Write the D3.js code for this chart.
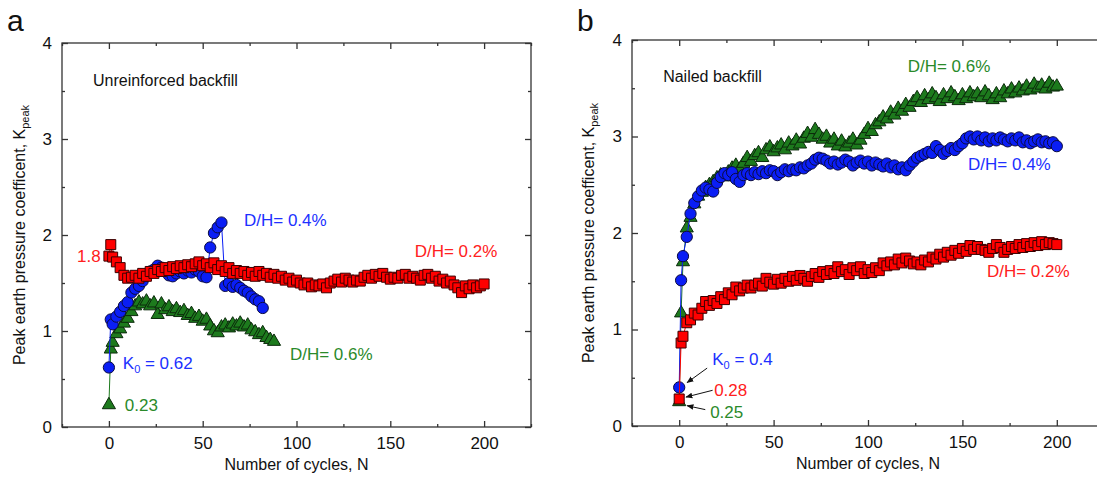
<!DOCTYPE html>
<html>
<head>
<meta charset="utf-8">
<script src="https://cdn.jsdelivr.net/npm/d3@7"></script>
<style>
  body { margin: 0; background: #fff; }
  svg { display: block; }
  text { font-family: "Liberation Sans", Arial, sans-serif; }
</style>
</head>
<body>
<svg width="1097" height="477"></svg>
<script>
// ---- data: K_peak vs number of cycles ----
// cycle numbers: 0, 1, then every second cycle
const cyclesA_red = [0, 1].concat(d3.range(2, 201, 2));
const cyclesA_blue = [0, 1].concat(d3.range(2, 83, 2));
const cyclesA_green = [0, 1].concat(d3.range(2, 89, 2));
const cyclesB = [0, 1].concat(d3.range(2, 201, 2));

// panel a - unreinforced backfill
const unreinforced02 = [
  1.78, 1.90, 1.77, 1.72, 1.66, 1.58, 1.55, 1.56, 1.58, 1.55,
  1.60, 1.57, 1.62, 1.60, 1.64, 1.62, 1.66, 1.63, 1.67, 1.65,
  1.68, 1.66, 1.69, 1.67, 1.70, 1.72, 1.68, 1.70, 1.66, 1.71,
  1.64, 1.68, 1.62, 1.66, 1.60, 1.63, 1.60, 1.62, 1.58, 1.61,
  1.57, 1.62, 1.58, 1.60, 1.56, 1.59, 1.55, 1.57, 1.53, 1.55,
  1.51, 1.53, 1.50, 1.48, 1.50, 1.46, 1.48, 1.47, 1.49, 1.45,
  1.50, 1.52, 1.54, 1.51, 1.55, 1.53, 1.51, 1.53, 1.52, 1.56,
  1.58, 1.55, 1.59, 1.57, 1.60, 1.56, 1.54, 1.56, 1.55, 1.58,
  1.59, 1.55, 1.57, 1.55, 1.53, 1.58, 1.59, 1.55, 1.57, 1.52,
  1.54, 1.50, 1.52, 1.48, 1.45, 1.40, 1.47, 1.44, 1.48, 1.45,
  1.47, 1.49
];
const unreinforced04 = [
  0.62, 1.12, 1.07, 1.15, 1.20, 1.26, 1.30, 1.40, 1.44, 1.47,
  1.52, 1.58, 1.62, 1.64, 1.68, 1.66, 1.62, 1.58, 1.57, 1.60,
  1.62, 1.60, 1.63, 1.61, 1.64, 1.62, 1.57, 1.56, 1.87, 2.02,
  2.08, 2.13, 1.47, 1.50, 1.46, 1.48, 1.45, 1.42, 1.40, 1.36,
  1.33, 1.31, 1.24
];
const unreinforced06 = [
  0.23, 0.81, 0.88, 0.97, 1.02, 1.08, 1.13, 1.20, 1.26, 1.30,
  1.28, 1.31, 1.26, 1.29, 1.17, 1.28, 1.22, 1.25, 1.20, 1.23,
  1.19, 1.21, 1.16, 1.18, 1.13, 1.15, 1.10, 1.12, 1.05, 1.00,
  0.98, 1.04, 1.06, 1.03, 1.07, 1.05, 1.08, 1.04, 1.06, 1.01,
  0.99, 0.96, 0.98, 0.93, 0.91, 0.89
];

// panel b - nailed backfill
const nailed02 = [
  0.28, 0.86, 0.93, 1.07, 1.10, 1.17, 1.15, 1.22, 1.29, 1.25,
  1.30, 1.27, 1.34, 1.31, 1.38, 1.36, 1.44, 1.40, 1.43, 1.46,
  1.43, 1.46, 1.48, 1.45, 1.53, 1.49, 1.47, 1.52, 1.48, 1.53,
  1.50, 1.55, 1.51, 1.56, 1.53, 1.50, 1.55, 1.58, 1.54, 1.60,
  1.57, 1.61, 1.58, 1.65, 1.60, 1.62, 1.57, 1.64, 1.61, 1.65,
  1.58, 1.62, 1.59, 1.64, 1.61, 1.69, 1.66, 1.70, 1.67, 1.73,
  1.69, 1.74, 1.71, 1.68, 1.70, 1.67, 1.72, 1.70, 1.75, 1.73,
  1.78, 1.75, 1.80, 1.77, 1.82, 1.79, 1.84, 1.81, 1.87, 1.83,
  1.86, 1.83, 1.82, 1.80, 1.84, 1.88, 1.85, 1.80, 1.83, 1.86,
  1.84, 1.88, 1.85, 1.89, 1.86, 1.90, 1.87, 1.91, 1.88, 1.90,
  1.89, 1.88
];
const nailed04 = [
  0.40, 1.51, 1.76, 1.96, 2.20, 2.31, 2.38, 2.44, 2.47, 2.45,
  2.43, 2.52, 2.58, 2.62, 2.60, 2.63, 2.56, 2.53, 2.60, 2.62,
  2.60, 2.63, 2.61, 2.64, 2.62, 2.65, 2.64, 2.60, 2.63, 2.66,
  2.64, 2.66, 2.65, 2.68, 2.67, 2.70, 2.72, 2.76, 2.78, 2.77,
  2.75, 2.72, 2.74, 2.71, 2.73, 2.76, 2.74, 2.70, 2.73, 2.75,
  2.72, 2.74, 2.70, 2.73, 2.71, 2.69, 2.72, 2.68, 2.70, 2.66,
  2.68, 2.65, 2.70, 2.74, 2.78, 2.80, 2.82, 2.84, 2.83, 2.90,
  2.86, 2.82, 2.85, 2.88, 2.86, 2.90, 2.93, 2.98, 3.00, 2.97,
  3.00, 2.96, 2.99, 2.95, 2.98, 2.96, 2.99, 2.97, 2.95, 2.98,
  2.96, 2.99, 2.94, 2.96, 2.93, 2.95, 2.97, 2.94, 2.95, 2.93,
  2.94, 2.90
];
const nailed06 = [
  0.25, 1.17, 1.70, 2.05, 2.16, 2.30, 2.38, 2.42, 2.47, 2.50,
  2.53, 2.57, 2.60, 2.58, 2.63, 2.67, 2.70, 2.66, 2.72, 2.78,
  2.74, 2.80, 2.83, 2.78, 2.86, 2.89, 2.84, 2.88, 2.91, 2.86,
  2.93, 2.90, 2.96, 2.92, 2.98, 3.03, 2.99, 3.07, 3.02, 2.97,
  3.00, 2.93, 2.97, 2.90, 2.95, 2.89, 2.93, 2.97, 2.91, 2.96,
  3.02, 3.08, 3.05, 3.12, 3.15, 3.20, 3.18, 3.25, 3.22, 3.29,
  3.26, 3.33, 3.30, 3.36, 3.40, 3.35, 3.42, 3.38, 3.44, 3.40,
  3.36, 3.43, 3.39, 3.45, 3.41, 3.37, 3.43, 3.39, 3.45, 3.41,
  3.44, 3.40, 3.46, 3.42, 3.38, 3.44, 3.40, 3.47, 3.44, 3.49,
  3.45, 3.50, 3.47, 3.52, 3.48, 3.54, 3.50, 3.53, 3.49, 3.55,
  3.51, 3.52
];

const xTicks = [0, 50, 100, 150, 200];
const xMinor = [-25, 25, 75, 125, 175, 225];
const yTicks = [0, 1, 2, 3, 4];
const yMinor = [0.5, 1.5, 2.5, 3.5];

const RED = "#ff0000", BLUE = "#0a1ef5", GREEN = "#1d7a1d";
const RED_T = "#ff2020", BLUE_T = "#2030ff", GREEN_T = "#2a8a2a";

const svg = d3.select("svg");

svg.append("defs").append("marker")
  .attr("id", "arrow")
  .attr("viewBox", "0 0 10 10")
  .attr("refX", 9).attr("refY", 5)
  .attr("markerWidth", 7).attr("markerHeight", 7)
  .attr("orient", "auto")
  .append("path")
  .attr("d", "M0,1 L10,5 L0,9 z")
  .attr("fill", "#111");

function drawPanel(p) {
  const x = d3.scaleLinear().domain([-25, 225]).range([p.left, p.right]);
  const y = d3.scaleLinear().domain([0, 4]).range([p.bottom, p.top]);
  const g = svg.append("g");

  // frame
  g.append("rect")
    .attr("x", p.left).attr("y", p.top)
    .attr("width", p.right - p.left).attr("height", p.bottom - p.top)
    .attr("fill", "none").attr("stroke", "#333").attr("stroke-width", 1.3);

  function axis(gen, tr, vals, size, labels) {
    const a = g.append("g").attr("transform", tr)
      .call(gen.tickValues(vals).tickSizeInner(-size).tickSizeOuter(0)
        .tickPadding(10).tickFormat(labels ? d3.format("d") : ""));
    a.select(".domain").remove();
    a.selectAll("line").attr("stroke", "#333").attr("stroke-width", 1.3);
    a.selectAll("text").attr("font-size", 17).attr("fill", "#111")
      .style("font-family", '"Liberation Sans", Arial, sans-serif');
  }
  axis(d3.axisBottom(x), `translate(0,${p.bottom})`, xTicks, 6, true);
  axis(d3.axisBottom(x), `translate(0,${p.bottom})`, xMinor, 3, false);
  axis(d3.axisTop(x), `translate(0,${p.top})`, xTicks, 6, false);
  axis(d3.axisTop(x), `translate(0,${p.top})`, xMinor, 3, false);
  axis(d3.axisLeft(y), `translate(${p.left},0)`, yTicks, 6, true);
  axis(d3.axisLeft(y), `translate(${p.left},0)`, yMinor, 3, false);
  axis(d3.axisRight(y), `translate(${p.right},0)`, yTicks, 6, false);
  axis(d3.axisRight(y), `translate(${p.right},0)`, yMinor, 3, false);

  // axis titles
  g.append("text")
    .attr("x", (x(0) + x(200)) / 2).attr("y", p.bottom + 43)
    .attr("text-anchor", "middle").attr("font-size", 16).attr("fill", "#111")
    .text("Number of cycles, N");

  const yt = g.append("text")
    .attr("transform", `translate(${p.ytitleX},${(p.top + p.bottom) / 2}) rotate(-90)`)
    .attr("text-anchor", "middle").attr("font-size", 16).attr("fill", "#111");
  yt.append("tspan").text("Peak earth pressure coefficent, K");
  yt.append("tspan").attr("font-size", 11).attr("dy", 4).text("peak");

  g.append("text")
    .attr("x", p.tagX).attr("y", 31)
    .attr("font-size", 30).attr("fill", "#111")
    .text(p.tag);

  // series: line + markers
  const line = d3.line().x(d => x(d[0])).y(d => y(d[1]));
  p.series.forEach(s => {
    const pts = s.cycles.map((c, i) => [c, s.values[i]]).filter(d => d[1] !== undefined);
    g.append("path").datum(pts)
      .attr("d", line).attr("fill", "none")
      .attr("stroke", s.color).attr("stroke-width", 1);
    const sym = d3.symbol().type(s.shape).size(s.size);
    g.append("g").selectAll("path")
      .data(pts).join("path")
      .attr("transform", d => `translate(${x(d[0])},${y(d[1])})`)
      .attr("d", sym)
      .attr("fill", s.color)
      .attr("stroke", s.stroke).attr("stroke-width", 1);
  });

  // annotations
  p.notes.forEach(n => {
    const t = g.append("text")
      .attr("x", x(n.x)).attr("y", y(n.y))
      .attr("font-size", n.size || 16).attr("fill", n.color);
    if (n.k0) {
      t.append("tspan").text("K");
      t.append("tspan").attr("font-size", 11).attr("dy", 4).text("0");
      t.append("tspan").attr("dy", -4).text(n.text);
    } else {
      t.text(n.text);
    }
  });
  (p.arrows || []).forEach(a => {
    g.append("line")
      .attr("x1", x(a[0])).attr("y1", y(a[1]))
      .attr("x2", x(a[2])).attr("y2", y(a[3]))
      .attr("stroke", "#111").attr("stroke-width", 1)
      .attr("marker-end", "url(#arrow)");
  });
}

drawPanel({
  tag: "a", tagX: 7, left: 62, right: 531, top: 43, bottom: 427, ytitleX: 25,
  series: [
    { cycles: cyclesA_green, values: unreinforced06, color: GREEN, stroke: "#0b2a0b", shape: d3.symbolTriangle, size: 75 },
    { cycles: cyclesA_blue, values: unreinforced04, color: BLUE, stroke: "#0a0a40", shape: d3.symbolCircle, size: 100 },
    { cycles: cyclesA_red, values: unreinforced02, color: RED, stroke: "#3a0000", shape: d3.symbolSquare, size: 100 }
  ],
  notes: [
    { x: -8.5, y: 3.55, text: "Unreinforced backfill", color: "#111" },
    { x: 72, y: 2.09, text: "D/H= 0.4%", color: BLUE_T, size: 17 },
    { x: -17, y: 1.72, text: "1.8", color: RED_T, size: 17 },
    { x: 163, y: 1.77, text: "D/H= 0.2%", color: RED_T, size: 17 },
    { x: 7.4, y: 0.6, text: " = 0.62", color: BLUE_T, size: 17, k0: true },
    { x: 96.5, y: 0.70, text: "D/H= 0.6%", color: GREEN_T, size: 17 },
    { x: 8.5, y: 0.17, text: "0.23", color: GREEN_T, size: 17 }
  ]
});

drawPanel({
  tag: "b", tagX: 577, left: 632, right: 1104, top: 40, bottom: 426, ytitleX: 594,
  series: [
    { cycles: cyclesB, values: nailed06, color: GREEN, stroke: "#0b2a0b", shape: d3.symbolTriangle, size: 75 },
    { cycles: cyclesB, values: nailed04, color: BLUE, stroke: "#0a0a40", shape: d3.symbolCircle, size: 100 },
    { cycles: cyclesB, values: nailed02, color: RED, stroke: "#3a0000", shape: d3.symbolSquare, size: 100 }
  ],
  notes: [
    { x: -8.5, y: 3.56, text: "Nailed backfill", color: "#111" },
    { x: 121, y: 3.67, text: "D/H= 0.6%", color: GREEN_T, size: 17 },
    { x: 153, y: 2.65, text: "D/H= 0.4%", color: BLUE_T, size: 17 },
    { x: 163, y: 1.54, text: "D/H= 0.2%", color: RED_T, size: 17 },
    { x: 17.5, y: 0.63, text: " = 0.4", color: BLUE_T, size: 17, k0: true },
    { x: 18.5, y: 0.31, text: "0.28", color: RED_T, size: 17 },
    { x: 16.4, y: 0.08, text: "0.25", color: GREEN_T, size: 17 }
  ],
  arrows: [
    [14.8, 0.60, 4.2, 0.45],
    [17.7, 0.37, 3.6, 0.30],
    [13.8, 0.17, 4.2, 0.21]
  ]
});
</script>
</body>
</html>
